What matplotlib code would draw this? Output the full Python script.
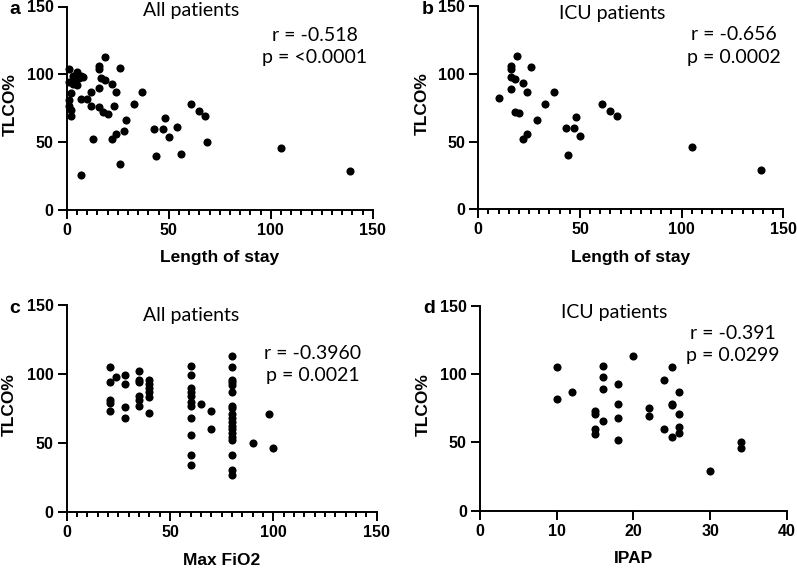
"""Four-panel scatter: TLCO% against length of stay, max FiO2 and IPAP."""
import matplotlib

matplotlib.use("Agg")
import matplotlib.pyplot as plt
from matplotlib.ticker import MultipleLocator

W, H = 797, 568

# panel a: all patients, length of stay vs TLCO%
los_all = [1, 5, 3, 5, 7, 8, 6, 1, 3, 4, 5, 2, 1, 1, 2, 2, 7, 10, 12, 12,
           16, 16, 19, 16, 17, 19, 16, 18, 20, 22, 24, 23, 26, 37, 33, 29,
           28, 24, 22, 13, 26, 7, 43, 47, 48, 50, 44, 56, 54, 61, 65, 68,
           69, 105, 139]
tlco_los_all = [104, 102, 99, 98, 99, 98, 97, 94, 93, 95, 92, 86, 81, 77,
                74, 69, 82, 82, 87, 77, 106, 104, 113, 90, 97, 96, 76, 72,
                71, 93, 87, 77, 105, 87, 78, 66, 58, 56, 52, 52, 34, 26, 60,
                60, 68, 54, 40, 41, 61, 78, 73, 69, 50, 46, 29]

# panel b: ICU patients, length of stay vs TLCO%
los_icu = [10, 19, 16, 16, 26, 16, 18, 22, 16, 24, 37, 33, 18, 20, 29, 22,
           24, 43, 47, 48, 50, 44, 61, 65, 68, 105, 139]
tlco_los_icu = [82, 113, 106, 104, 105, 98, 96, 93, 89, 87, 87, 78, 72, 71,
                66, 52, 56, 60, 60, 68, 54, 40, 78, 73, 69, 46, 29]

# panel c: all patients, max FiO2 vs TLCO%
fio2 = ([21] * 5 + [24] + [28] * 4 + [35] * 6 + [40] * 6 + [60] * 11 + [65]
        + [70] * 2 + [80] * 19 + [90, 98, 100])
tlco_fio2 = [105, 94, 81, 79, 73,
             98,
             99, 93, 76, 68,
             102, 96, 94, 84, 81, 77,
             96, 93, 90, 87, 83, 72,
             106, 99, 90, 87, 84, 80, 77, 68, 56, 41, 34,
             78,
             73, 60,
             113, 105, 96, 94, 92, 87, 77, 75, 71, 68, 65, 62, 60, 57, 54,
             52, 41, 30, 27,
             50, 71, 46]

# panel d: ICU patients, IPAP vs TLCO%
ipap = ([10, 10, 12] + [15] * 4 + [16] * 4 + [18] * 4 + [20] + [22] * 2
        + [24] * 2 + [25] * 4 + [26] * 4 + [30] + [34] * 2)
tlco_ipap = [105, 82, 87,
             73, 71, 60, 56,
             106, 98, 89, 66,
             93, 78, 68, 52,
             113,
             75, 69,
             96, 60,
             105, 78, 77, 54,
             87, 71, 61, 57,
             29,
             50, 46]

panels = [
    dict(letter="a", x=los_all, y=tlco_los_all, xlabel="Length of stay",
         title="All patients", stats="r = -0.518\np = <0.0001", xmax=150,
         rect=(66.7, 6.5, 372.7, 210), title_xy=(60.8, 147), stats_xy=(121.5, 120.5)),
    dict(letter="b", x=los_icu, y=tlco_los_icu, xlabel="Length of stay",
         title="ICU patients", stats="r = -0.656\np = 0.0002", xmax=150,
         rect=(478.3, 6.3, 783.3, 209.3), title_xy=(66, 145), stats_xy=(125.8, 120.5)),
    dict(letter="c", x=fio2, y=tlco_fio2, xlabel="Max FiO2",
         title="All patients", stats="r = -0.3960\np = 0.0021", xmax=150,
         rect=(66.7, 305.2, 376.7, 511.7), title_xy=(60, 142.8), stats_xy=(119, 107)),
    dict(letter="d", x=ipap, y=tlco_ipap, xlabel="IPAP",
         title="ICU patients", stats="r = -0.391\np = 0.0299", xmax=40,
         rect=(480, 305.7, 786.7, 510.7), title_xy=(17.5, 144.8), stats_xy=(33, 121.5)),
]

fig = plt.figure(figsize=(W / 100, H / 100), dpi=100)
bold = dict(family="Liberation Sans", fontweight="bold")
note = dict(family="Lato", fontsize=14)

for p in panels:
    x0, y0, x1, y1 = p["rect"]
    ax = fig.add_axes([x0 / W, 1 - y1 / H, (x1 - x0) / W, (y1 - y0) / H])
    ax.scatter(p["x"], p["y"], s=34, color="black", linewidths=0, clip_on=False, zorder=3)
    ax.set_xlim(0, p["xmax"])
    ax.set_ylim(0, 150)
    ax.set_yticks([0, 50, 100, 150])
    if p["xmax"] == 150:
        ax.set_xticks([0, 50, 100, 150])
        ax.xaxis.set_minor_locator(MultipleLocator(5))
    else:
        ax.set_xticks([0, 10, 20, 30, 40])
    for side in ("top", "right"):
        ax.spines[side].set_visible(False)
    for side in ("left", "bottom"):
        ax.spines[side].set_linewidth(1.4)
    ax.tick_params(which="major", direction="out", length=6.5, width=1.4, pad=3)
    ax.tick_params(which="minor", direction="out", length=3.5, width=1.4)
    for lab in ax.get_xticklabels() + ax.get_yticklabels():
        lab.set_fontfamily("Liberation Sans")
        lab.set_fontweight("bold")
        lab.set_fontsize(11.5)
    ax.set_xlabel(p["xlabel"], fontsize=12.5, va="center", **bold)
    ax.xaxis.set_label_coords(0.5, -0.235)
    ax.set_ylabel("TLCO%", fontsize=12.5, va="center", **bold)
    ax.yaxis.set_label_coords(-0.185, 0.52)
    ax.text(*p["title_xy"], p["title"], ha="center", va="center", **note)
    ax.text(*p["stats_xy"], p["stats"], ha="center", va="center",
            linespacing=1.4, **note)
    fig.text((x0 - 57) / W, 1 - (y0 + 3) / H, p["letter"], fontsize=14,
             ha="left", va="center", **bold)

fig.savefig("out.png", dpi=100)
